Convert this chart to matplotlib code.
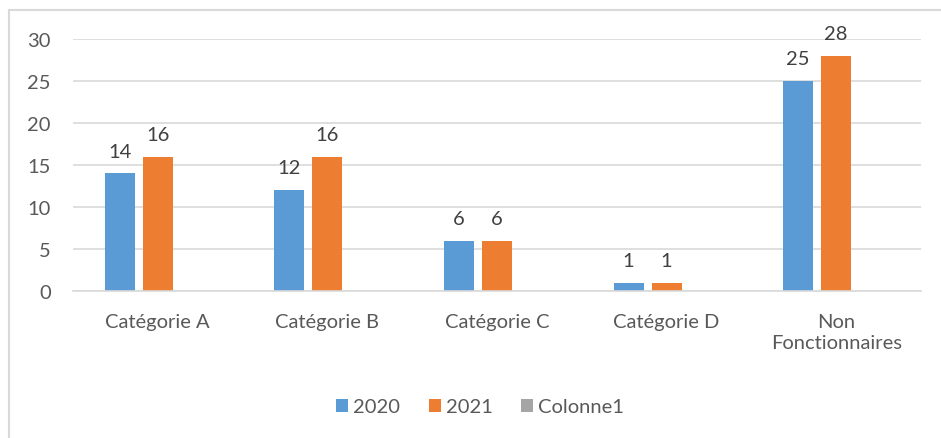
import numpy as np
import matplotlib.pyplot as plt
from matplotlib.patches import Rectangle

# Données
categories = ['Catégorie A', 'Catégorie B', 'Catégorie C', 'Catégorie D', 'Non\nFonctionnaires']
series_names = ['2020', '2021', 'Colonne1']
values_2020 = [14, 12, 6, 1, 25]
values_2021 = [16, 16, 6, 1, 28]
values_col1 = [0, 0, 0, 0, 0]  # série vide
yticks = [0, 5, 10, 15, 20, 25, 30]

colors = ['#5B9BD5', '#ED7D31', '#A5A5A5']
text_color = '#595959'
label_color = '#404040'
grid_color = '#D9D9D9'

plt.rcParams['font.family'] = ['Lato', 'DejaVu Sans']
fs = 14.5

fig = plt.figure(figsize=(9.41, 4.39), dpi=100)
fig.patch.set_facecolor('white')

# cadre du graphique (coupé à droite et en bas comme dans l'original)
fig.patches.append(Rectangle((8.5 / 941, -0.1), 1.0, 1 - 10.5 / 439 + 0.1,
                             transform=fig.transFigure, fill=False,
                             edgecolor=grid_color, linewidth=1.5))

ax = fig.add_axes([73 / 941, 1 - 292 / 439, (921 - 73) / 941, (292 - 40) / 439])

x = np.arange(len(categories))
width = 0.177
step = 0.224

all_values = [values_2020, values_2021, values_col1]
for i, (name, vals) in enumerate(zip(series_names, all_values)):
    offset = (i - 1) * step
    bars = ax.bar(x + offset, vals, width, color=colors[i], label=name, zorder=3)
    if name != 'Colonne1':
        for b, v in zip(bars, vals):
            ax.annotate(str(v), (b.get_x() + b.get_width() / 2, v),
                        xytext=(0, 10), textcoords='offset points',
                        ha='center', va='bottom', fontsize=fs, color=label_color)

ax.set_xlim(-0.5, len(categories) - 0.5)
ax.set_ylim(0, 30)
ax.set_yticks(yticks)
ax.set_yticklabels([str(t) for t in yticks], fontsize=fs, color=text_color)
ax.set_xticks(x)
ax.set_xticklabels(categories, fontsize=fs, color=text_color, linespacing=1.25)
ax.tick_params(axis='both', length=0)
ax.tick_params(axis='y', pad=16)
ax.tick_params(axis='x', pad=16)

ax.yaxis.grid(True, color=grid_color, linewidth=1.2, zorder=0)
for s in ['top', 'right', 'left']:
    ax.spines[s].set_visible(False)
ax.spines['bottom'].set_color(grid_color)
ax.spines['bottom'].set_linewidth(1.2)
ax.spines['bottom'].set_zorder(4)

leg = fig.legend(loc='center', bbox_to_anchor=(480 / 941, 1 - 408 / 439), ncol=3,
                 frameon=False, fontsize=fs, handlelength=0.6, handleheight=0.6,
                 handletextpad=0.25, columnspacing=1.4)
for t in leg.get_texts():
    t.set_color(text_color)

fig.savefig('out.png', dpi=100, facecolor='white')
